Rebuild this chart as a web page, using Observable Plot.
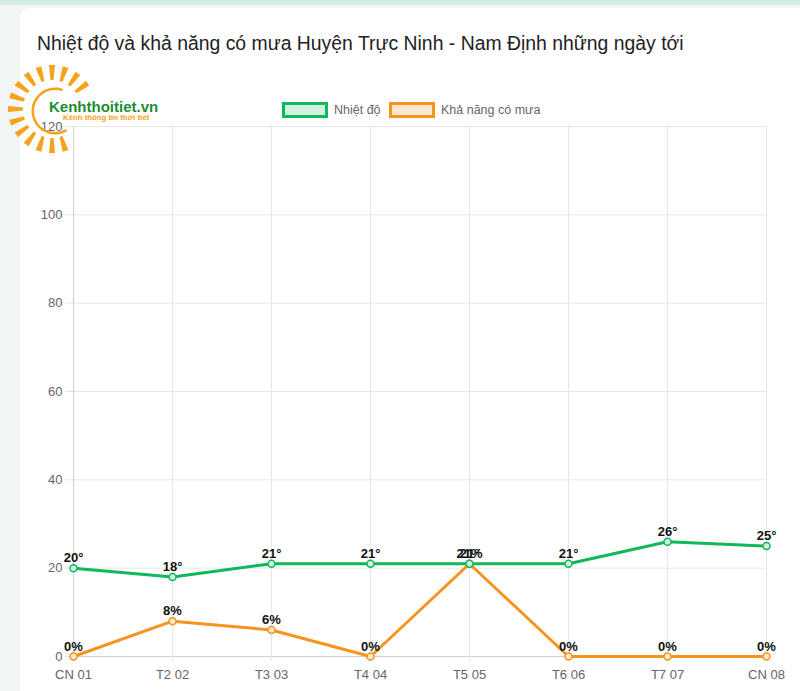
<!DOCTYPE html>
<html><head><meta charset="utf-8">
<script src="https://cdn.jsdelivr.net/npm/d3@7"></script>
<script src="https://cdn.jsdelivr.net/npm/@observablehq/plot@0.6"></script>
<style>
html,body{margin:0;padding:0;width:800px;height:691px;overflow:hidden;background:#f2f6f7;font-family:"Liberation Sans",Arial,sans-serif;}
#band{position:absolute;left:0;top:0;width:800px;height:5px;background:#d6ece0;}
#card{position:absolute;left:20px;top:8px;width:800px;height:700px;background:#fff;border-radius:10px;}
#title{position:absolute;left:37px;top:32px;font-size:19.4px;color:#222;white-space:nowrap;}
#chart{position:absolute;left:0;top:110px;}
.leg{position:absolute;top:102px;height:15px;display:flex;align-items:center;font-size:12.5px;color:#666;}
.box{width:40px;height:10px;border:3px solid;margin-right:6px;}
#logo{position:absolute;left:0;top:55px;}
</style></head><body>
<div id="band"></div>
<div id="card"></div>
<div id="title">Nhiệt độ và khả năng có mưa Huyện Trực Ninh - Nam Định những ngày tới</div>
<div class="leg" style="left:282px"><div class="box" style="border-color:#10b75b;background:#d3f1e1"></div>Nhiệt độ</div>
<div class="leg" style="left:389px"><div class="box" style="border-color:#f7931e;background:#fde8d2"></div>Khả năng có mưa</div>
<div id="chart"></div>
<div id="logo"></div>
<script>
const days = ["CN 01","T2 02","T3 03","T4 04","T5 05","T6 06","T7 07","CN 08"];
const temperature = [20,18,21,21,21,21,26,25];
const rainChance = [0,8,6,0,21,0,0,0];
const yTicks = [0,20,40,60,80,100,120];

const tempData = days.map((d,i)=>({day:d, v:temperature[i], label:temperature[i]+"°"}));
const rainData = days.map((d,i)=>({day:d, v:rainChance[i], label:rainChance[i]+"%"}));
const green = "#10b75b", orange = "#f7931e";

const plot = Plot.plot({
  width: 800, height: 581,
  marginLeft: 72, marginRight: 34, marginTop: 16, marginBottom: 35,
  style: {fontFamily: "'Liberation Sans', Arial, sans-serif", background: "transparent"},
  x: {type: "point", domain: days, padding: 0, label: null},
  y: {domain: [0,120], label: null},
  marks: [
    Plot.gridY(yTicks, {stroke: "#e6e6e6", strokeOpacity: 1}),
    Plot.gridX(days, {stroke: "#e6e6e6", strokeOpacity: 1}),
    Plot.ruleX([days[0]], {stroke: "#d0d0d0"}),
    Plot.ruleY([0], {stroke: "#d0d0d0"}),
    Plot.axisY(yTicks, {tickSize: 7, stroke: "#e6e6e6", strokeOpacity: 1, tickPadding: 3, fontSize: 13, fill: "#666", label: null}),
    Plot.axisX(days, {tickSize: 5, stroke: "#e6e6e6", strokeOpacity: 1, tickPadding: 8, fontSize: 13, fill: "#666", label: null}),
    Plot.line(rainData, {x: "day", y: "v", stroke: orange, strokeWidth: 3}),
    Plot.dot(rainData, {x: "day", y: "v", r: 3.5, stroke: orange, fill: "#fde8d2", strokeWidth: 1.5}),
    Plot.line(tempData, {x: "day", y: "v", stroke: green, strokeWidth: 3}),
    Plot.dot(tempData, {x: "day", y: "v", r: 3.5, stroke: green, fill: "#d3f1e1", strokeWidth: 1.5}),
    Plot.text(tempData, {x: "day", y: "v", text: "label", dy: -10, fontSize: 13, fontWeight: "bold", fill: "#111"}),
    Plot.text(rainData, {x: "day", y: "v", text: "label", dy: -10, fontSize: 13, fontWeight: "bold", fill: "#111"})
  ]
});
document.getElementById("chart").appendChild(plot);

// decorative logo
const svg = d3.select("#logo").append("svg").attr("width", 170).attr("height", 100);
const cx = 52, cy = 54;
const g = svg.append("g").attr("transform", `translate(${cx},${cy})`);
for (let k = 0; k < 20; k++) {
  const deg = k * 18;
  if (deg > 330 || deg < 60) continue;
  const a = deg * Math.PI / 180;
  const r1 = 29, r2 = 44;
  const w1 = 1.5, w2 = 3;
  const ux = Math.cos(a), uy = Math.sin(a), px = -uy, py = ux;
  const pts = [
    [r1*ux + w1*px, r1*uy + w1*py],
    [r2*ux + w2*px, r2*uy + w2*py],
    [r2*ux - w2*px, r2*uy - w2*py],
    [r1*ux - w1*px, r1*uy - w1*py]
  ];
  g.append("path").attr("d", "M" + pts.map(p => p.join(",")).join("L") + "Z").attr("fill", "#f7a21b");
}
g.append("path")
  .attr("d", d3.arc()({innerRadius: 21, outerRadius: 23.5, startAngle: 0.35, endAngle: -Math.PI + 0.35 - 0.9}))
  .attr("transform", "translate(3,2)").attr("fill", "#f7a21b");
svg.append("text").attr("x", 49).attr("y", 57).text("Kenhthoitiet.vn")
  .attr("font-family", "'Liberation Sans', Arial, sans-serif").attr("font-weight", "bold")
  .attr("font-size", 15).attr("fill", "#1e8c34");
svg.append("text").attr("x", 63).attr("y", 65).text("Kênh thông tin thời tiết")
  .attr("font-family", "'Liberation Sans', Arial, sans-serif").attr("font-weight", "bold")
  .attr("font-size", 7.8).attr("fill", "#f7a21b");
</script>
</body></html>
